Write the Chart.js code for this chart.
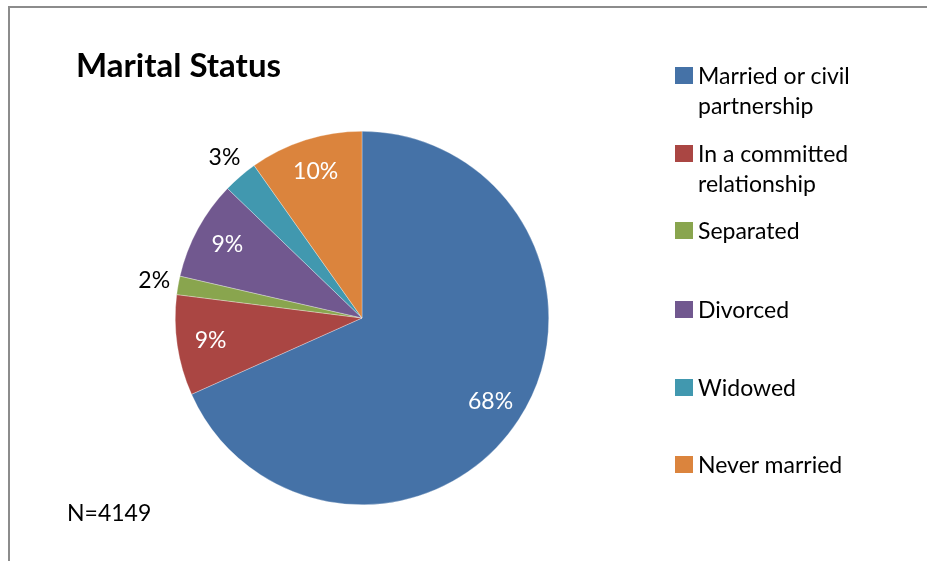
<!DOCTYPE html>
<html>
<head>
<meta charset="utf-8">
<script src="https://cdn.jsdelivr.net/npm/chart.js@4.4.1/dist/chart.umd.min.js"></script>
<style>
  html,body{margin:0;padding:0;background:#fff;overflow:hidden;}
  body{width:927px;height:561px;position:relative;font-family:Lato,"Open Sans",sans-serif;color:#000;}
  #frame{position:absolute;left:8px;top:6px;width:917px;height:553px;border-top:2px solid #8c8c8c;border-left:2px solid #8c8c8c;}
  #c{position:absolute;left:0;top:0;}
  #title{position:absolute;left:76px;top:43px;font-size:33px;font-weight:bold;line-height:42px;}
  #note{position:absolute;left:67px;top:498px;font-size:23px;line-height:28px;}
  #legend{position:absolute;left:675px;top:0;}
  .item{position:absolute;left:0;white-space:nowrap;font-size:23px;line-height:30px;}
  .sw{position:absolute;left:0;width:18px;height:17px;}
  .txt{position:absolute;left:23px;}
</style>
</head>
<body>
<div id="frame"></div>
<canvas id="c" width="927" height="561"></canvas>
<div id="title">Marital Status</div>
<div id="note">N=4149</div>
<div id="legend"></div>
<script>
// data
const labels = ['Married or civil partnership', 'In a committed relationship', 'Separated', 'Divorced', 'Widowed', 'Never married'];
const legendLines = [['Married or civil', 'partnership'], ['In a committed', 'relationship'], ['Separated'], ['Divorced'], ['Widowed'], ['Never married']];
const shares = [68.3, 8.7, 1.6, 8.6, 3.0, 9.8];
const colors = ['#4572A7', '#AA4643', '#89A54E', '#71588F', '#4198AF', '#DB843D'];

// legend (first line centre y for each entry)
const legendY = [75, 153, 230, 309, 387, 464];
const lg = document.getElementById('legend');
legendLines.forEach((lines, i) => {
  const d = document.createElement('div');
  d.className = 'item';
  d.style.top = (legendY[i] - 15) + 'px';
  d.innerHTML = `<div class="sw" style="top:7px;background:${colors[i]}"></div>` +
    lines.map((t, k) => `<div class="txt" style="top:${k*30}px">${t}</div>`).join('');
  lg.appendChild(d);
});

// percent labels on/around slices
const pctLabels = {
  id: 'pctLabels',
  afterDatasetsDraw(chart){
    const ctx = chart.ctx;
    const ds = chart.data.datasets[0];
    const total = ds.data.reduce((a, b) => a + b, 0);
    chart.getDatasetMeta(0).data.forEach((arc, i) => {
      const p = ds.data[i] / total * 100;
      const mid = (arc.startAngle + arc.endAngle) / 2;
      const small = p < 5;
      const r = arc.outerRadius * (small ? 1.13 : 0.82);
      ctx.save();
      ctx.font = '23px Lato, "Open Sans", sans-serif';
      ctx.fillStyle = small ? '#000' : '#fff';
      ctx.textAlign = 'center';
      ctx.textBaseline = 'middle';
      ctx.fillText(Math.round(p) + '%', arc.x + Math.cos(mid) * r, arc.y + Math.sin(mid) * r);
      ctx.restore();
    });
  }
};

new Chart(document.getElementById('c'), {
  type: 'pie',
  data: { labels, datasets: [{ data: shares, backgroundColor: colors, borderColor: 'rgba(255,255,255,0.6)', borderWidth: 0.5 }] },
  options: {
    responsive: false,
    animation: false,
    layout: { padding: { left: 175, right: 378, top: 131, bottom: 56 } },
    plugins: { legend: { display: false }, tooltip: { enabled: false } }
  },
  plugins: [pctLabels]
});
</script>
</body>
</html>
